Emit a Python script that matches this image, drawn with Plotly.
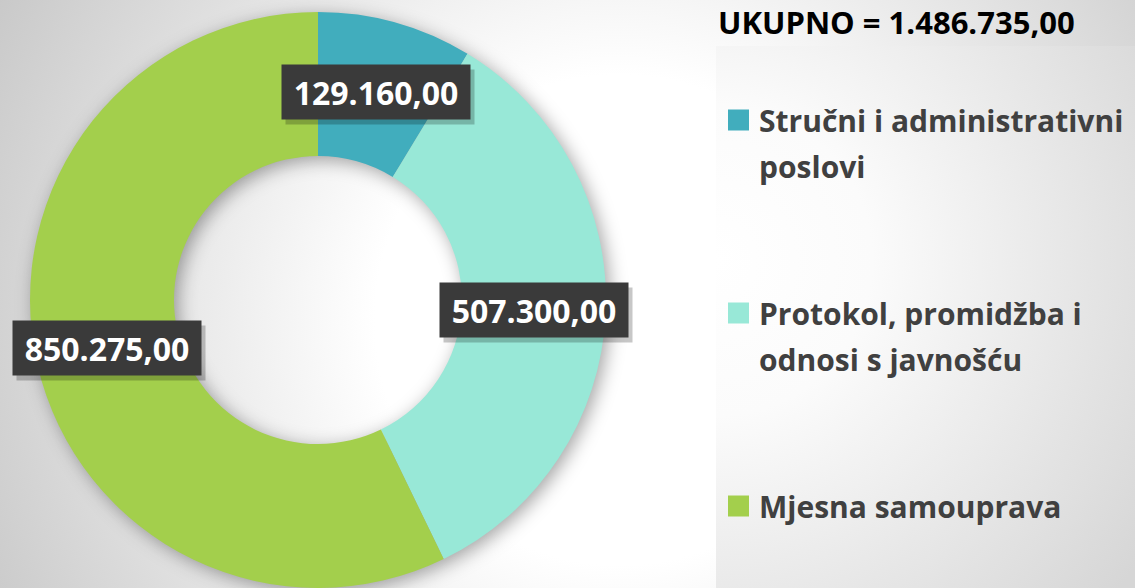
import base64
import math
import plotly.graph_objects as go

# ---------------- data ----------------
categories = ["Stručni i administrativni poslovi",
              "Protokol, promidžba i odnosi s javnošću",
              "Mjesna samouprava"]
legend_lines = [["Stručni i administrativni", "poslovi"],
                ["Protokol, promidžba i", "odnosi s javnošću"],
                ["Mjesna samouprava"]]
values = [129160.00, 507300.00, 850275.00]
value_labels = ["129.160,00", "507.300,00", "850.275,00"]
total_label = "UKUPNO = 1.486.735,00"
colors = ["#41ADBD", "#98E8D7", "#A3CF4C"]

# ---------------- layout constants ----------------
W, H = 1135, 588
CX, CY, R = 318, 300, 288      # pie centre / radius in px (from top-left)
HOLE = 0.5
FONT = "Open Sans"

def px(x):
    return x / W

def py(y):
    return 1 - y / H

# background (gradients + soft ring shadow) as an SVG image
svg = f'''<svg xmlns="http://www.w3.org/2000/svg" width="{W}" height="{H}" viewBox="0 0 {W} {H}">
<defs>
<radialGradient id="bg" gradientUnits="userSpaceOnUse" cx="620" cy="320" r="700">
<stop offset="0" stop-color="#ffffff"/><stop offset="0.35" stop-color="#ffffff"/>
<stop offset="1" stop-color="#c9c9c9"/></radialGradient>
<radialGradient id="lg" gradientUnits="userSpaceOnUse" cx="716" cy="260" r="520">
<stop offset="0" stop-color="#ffffff"/><stop offset="0.3" stop-color="#fbfbfb"/>
<stop offset="1" stop-color="#d6d6d6"/></radialGradient>
<filter id="blur" x="-20%" y="-20%" width="140%" height="140%"><feGaussianBlur stdDeviation="9"/></filter>
</defs>
<rect width="{W}" height="{H}" fill="url(#bg)"/>
<rect x="716" y="46" width="{W-716}" height="{H-46}" fill="url(#lg)"/>
<path fill-rule="evenodd" fill="#000" fill-opacity="0.35" filter="url(#blur)"
 d="M {CX+R+4} {CY+4} A {R} {R} 0 1 0 {CX-R+4} {CY+4} A {R} {R} 0 1 0 {CX+R+4} {CY+4} Z
    M {CX+R*HOLE+4} {CY+4} A {R*HOLE} {R*HOLE} 0 1 0 {CX-R*HOLE+4} {CY+4} A {R*HOLE} {R*HOLE} 0 1 0 {CX+R*HOLE+4} {CY+4} Z"/>
</svg>'''
bg_uri = "data:image/svg+xml;base64," + base64.b64encode(svg.encode("utf-8")).decode("ascii")

fig = go.Figure()
fig.add_trace(go.Pie(
    labels=categories, values=values, hole=HOLE, sort=False,
    direction="clockwise", rotation=0,
    marker=dict(colors=colors, line=dict(width=0)),
    textinfo="none", hoverinfo="label+value",
    domain=dict(x=[px(CX - R), px(CX + R)], y=[py(CY + R), py(CY - R)]),
    showlegend=False,
))

annotations = []
shapes = []

# value labels at the middle of each ring segment, computed from the data
total = sum(values)
cum = 0.0
rmid = R * (1 + HOLE) / 2
for v, lab in zip(values, value_labels):
    mid = (cum + v / 2) / total * 2 * math.pi
    cum += v
    lx = CX + rmid * math.sin(mid)
    ly = CY - rmid * math.cos(mid)
    # shadow box
    annotations.append(dict(x=px(lx + 4), y=py(ly + 5), xref="paper", yref="paper",
                            xanchor="center", yanchor="middle",
                            text=" ", showarrow=False, width=168, height=34, borderpad=10,
                            bgcolor="rgba(0,0,0,0.22)", font=dict(size=28)))
    annotations.append(dict(x=px(lx), y=py(ly), xref="paper", yref="paper",
                            xanchor="center", yanchor="middle",
                            text=lab, showarrow=False, width=168, height=34, borderpad=10,
                            bgcolor="#3A3A3A",
                            font=dict(family=FONT, size=32, color="#ffffff", weight="bold")))

# title
annotations.append(dict(x=px(716), y=py(22), xref="paper", yref="paper",
                        text=total_label, showarrow=False, xanchor="left", yanchor="middle",
                        font=dict(family=FONT, size=31, color="#000000", weight="bold")))

# custom legend
item_y = [120, 313, 506]
for lines, col, y0 in zip(legend_lines, colors, item_y):
    shapes.append(dict(type="rect", xref="paper", yref="paper",
                       x0=px(728), x1=px(749), y0=py(y0 - 10.5), y1=py(y0 + 10.5),
                       fillcolor=col, line=dict(width=0)))
    for i, t in enumerate(lines):
        annotations.append(dict(x=px(757), y=py(y0 + i * 46), xref="paper", yref="paper",
                                text=t, showarrow=False, xanchor="left", yanchor="middle",
                                font=dict(family=FONT, size=30, color="#404040", weight="bold")))

fig.update_layout(
    width=W, height=H,
    margin=dict(l=0, r=0, t=0, b=0),
    paper_bgcolor="#e6e6e6", plot_bgcolor="rgba(0,0,0,0)",
    images=[dict(source=bg_uri, xref="paper", yref="paper", x=0, y=1, sizex=1, sizey=1,
                 xanchor="left", yanchor="top", sizing="stretch", layer="below")],
    annotations=annotations, shapes=shapes,
    showlegend=False,
)

fig.write_html("out.html",
               config={"displayModeBar": False},
               post_script="document.body.style.margin='0';"
                           "document.body.style.overflow='hidden';"
                           "document.documentElement.style.overflow='hidden';")
